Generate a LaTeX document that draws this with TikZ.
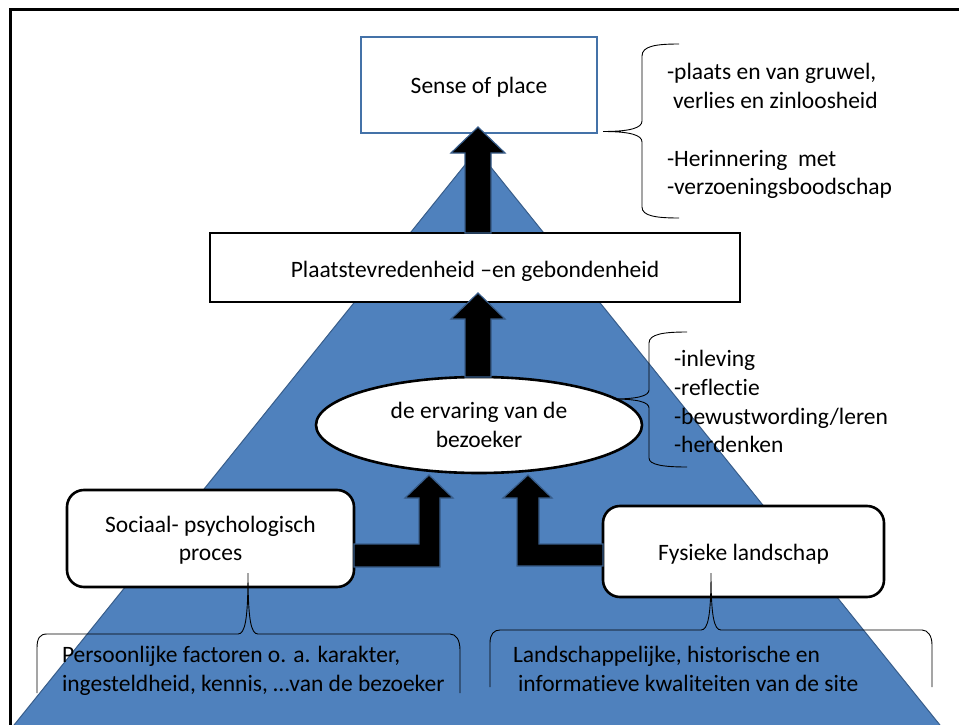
\documentclass[tikz,border=0pt]{standalone}
\usepackage{fontspec}
\setmainfont{Carlito}[Ligatures={NoCommon,NoContextual,TeX}]
\usetikzlibrary{shapes.geometric,calc}
\definecolor{tri}{HTML}{4F81BD}
\definecolor{triedge}{HTML}{385D8A}
\definecolor{senseedge}{HTML}{4472A8}
\begin{document}
\begin{tikzpicture}[x=1pt,y=-1pt,
  every node/.style={font=\fontsize{23.5}{28.5}\selectfont, inner sep=0pt, outer sep=0pt},
  box/.style={rectangle, draw=black, line width=2.6pt, fill=white},
  blk/.style={fill=black, draw=triedge, line width=1.2pt, line join=miter},
  bracestyle/.style={draw=black, line width=0.9pt},
  note/.style={anchor=base west}]
\useasboundingbox (0,0) rectangle (959,725);
\begin{scope}
  \clip (0,0) rectangle (959,725);
  \draw[fill=tri, draw=triedge, line width=1pt] (477,150) -- (952,740) -- (2,740) -- cycle;
  \draw[line width=2.7pt] (10.3,740) -- (10.3,9.7) -- (970,9.7);
\end{scope}

% main nodes
\node[rectangle, draw=senseedge, line width=2pt, fill=white, minimum width=236pt, minimum height=96pt,
      text height=18pt, text depth=0pt] (sense) at (479,85) {Sense of place};
\node[box, minimum width=530pt, minimum height=69pt, text height=19pt, text depth=0pt]
      (plaat) at (475,267.5) {Plaatstevredenheid –en gebondenheid};
\node[ellipse, draw=black, line width=2.6pt, fill=white, minimum width=326pt, minimum height=96pt, align=center]
      (erv) at (479,425) {de ervaring van de\\bezoeker};
\node[box, rounded corners=17pt, minimum width=287pt, minimum height=97pt, align=center, text depth=-3pt]
      (soc) at (210.5,538.5) {Sociaal- psychologisch\\proces};
\node[box, rounded corners=17pt, minimum width=281pt, minimum height=91pt, text height=17pt, text depth=0pt]
      (fys) at (743.5,551.5) {Fysieke landschap};

% block arrows
\draw[blk] let \p1=(sense.south), \p2=(plaat.north) in
  (\x1-1pt,\y1+6pt) -- (\x1+26pt,\y1-20pt) -- (\x1+12pt,\y1-20pt) -- (\x1+12pt,\y2)
  -- (\x1-14pt,\y2) -- (\x1-14pt,\y1-20pt) -- (\x1-28pt,\y1-20pt) -- cycle;
\draw[blk] let \p1=(erv.north), \p2=(plaat.south) in
  (\x1-1pt,\y2+9pt) -- (\x1+26pt,\y2-17pt) -- (\x1+12pt,\y2-17pt) -- (\x1+12pt,\y1)
  -- (\x1-14pt,\y1) -- (\x1-14pt,\y2-17pt) -- (\x1-28pt,\y2-17pt) -- cycle;
\coordinate (tipL) at ($(erv.south)+(-50,2)$);
\coordinate (tipR) at ($(erv.south)+(49,2)$);
\draw[blk] let \p1=(tipL), \p2=(soc.east) in
  (\x1,\y1) -- (\x1+24pt,\y1-23pt) -- (\x1+11pt,\y1-23pt) -- (\x1+11pt,\y1-92pt)
  -- (\x2,\y1-92pt) -- (\x2,\y1-69pt) -- (\x1-10pt,\y1-69pt) -- (\x1-10pt,\y1-23pt)
  -- (\x1-24pt,\y1-23pt) -- cycle;
\draw[blk] let \p1=(tipR), \p2=(fys.west) in
  (\x1,\y1) -- (\x1-25pt,\y1-23pt) -- (\x1-11pt,\y1-23pt) -- (\x1-11pt,\y1-91pt)
  -- (\x2,\y1-91pt) -- (\x2,\y1-69pt) -- (\x1+11pt,\y1-69pt) -- (\x1+11pt,\y1-23pt)
  -- (\x1+24pt,\y1-23pt) -- cycle;

% braces
\draw[bracestyle] (679,44) .. controls (656,44) and (642,46) .. (642,56) -- (642,121)
  .. controls (642,128) and (630,131.5) .. (603,131.5)
  .. controls (630,131.5) and (642,135) .. (642,142) -- (642,207)
  .. controls (642,216) and (656,218) .. (679,218);
\draw[bracestyle] (687,332) .. controls (664,332) and (649,334) .. (649,343) -- (649,390)
  .. controls (649,396) and (637,399) .. (613,399)
  .. controls (637,399) and (649,402) .. (649,408) -- (649,458)
  .. controls (649,465) and (664,467) .. (687,467);
\draw[bracestyle] (37,693) -- (37,648) .. controls (37,638) and (40,634) .. (47,634) -- (238,634)
  .. controls (245,634) and (248,620) .. (248,573)
  .. controls (248,620) and (251,634) .. (258,634) -- (450,634)
  .. controls (456,634) and (460,640) .. (460,650) -- (460,693);
\draw[bracestyle] (490,687) -- (490,643) .. controls (490,634) and (494,630) .. (500,630) -- (701,630)
  .. controls (708,630) and (711,616) .. (711,573)
  .. controls (711,616) and (714,630) .. (721,630) -- (922,630)
  .. controls (928,630) and (932,636) .. (932,645) -- (932,687);

% brace texts
\node[note] (t1) at (667,80) {-plaats en van gruwel,};
\node[note] (t2) at (673,108) {verlies en zinloosheid};
\node[note] (t3) at (667,166) {-Herinnering\ \ met};
\node[note] (t4) at (667,194) {-verzoeningsboodschap};
\node[note] (t5) at (674,366) {-inleving};
\node[note] (t6) at (674,395) {-reflectie};
\node[note] (t7) at (674,424) {-bewustwording/leren};
\node[note] (t8) at (674,452) {-herdenken};
\node[note] (t9) at (62,662) {Persoonlijke factoren o. a. karakter,};
\node[note] (t10) at (62,691) {ingesteldheid, kennis, …van de bezoeker};
\node[note] (t11) at (513,662) {Landschappelijke, historische en};
\node[note] (t12) at (518,691) {informatieve kwaliteiten van de site};
\end{tikzpicture}
\end{document}
